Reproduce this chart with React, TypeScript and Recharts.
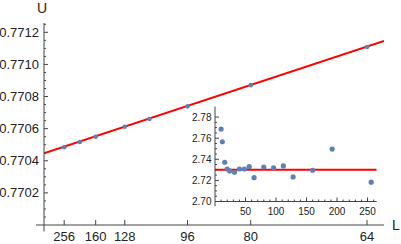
import { ComposedChart, Scatter, Line, XAxis, YAxis, ReferenceLine } from "recharts";

// main panel: U against 1/L^2, ticks labelled with L
const MAIN_L = [256, 192, 160, 128, 112, 96, 80, 64];
const MAIN_U = [0.770484, 0.770517, 0.77055, 0.770612, 0.77066, 0.770739, 0.770871, 0.771109];
const FIT_X = [0, 0.000257];
const FIT_U = [0.770447, 0.771146];
const MAIN_X_TICK_L = [256, 160, 128, 96, 80, 64];
const MAIN_Y_TICKS = [0.7702, 0.7704, 0.7706, 0.7708, 0.771, 0.7712];

// inset: rescaled values against L
const INSET_L = [10, 12, 16, 20, 24, 32, 40, 48, 56, 64, 80, 96, 112, 128, 160, 192, 256];
const INSET_V = [
  2.7686, 2.7566, 2.7372, 2.7308, 2.729, 2.7277, 2.7308, 2.7308, 2.733, 2.7226, 2.7327, 2.7318,
  2.7337, 2.7233, 2.7296, 2.7497, 2.7183,
];
const INSET_FIT_L = [0, 265];
const INSET_FIT_V = [2.73, 2.73];
const INSET_X_TICKS = [50, 100, 150, 200, 250];
const INSET_Y_TICKS = [2.7, 2.72, 2.74, 2.76, 2.78];

const BLUE = "#5e81b5";
const RED = "#ff0000";
const AXIS = "#444";
const TEXT = "#222";
const FONT = "'Liberation Sans', Arial, sans-serif";

const mainPoints = MAIN_L.map((L, i) => ({ x: 1 / (L * L), y: MAIN_U[i] }));
const mainFit = FIT_X.map((x, i) => ({ x, y: FIT_U[i] }));
const insetPoints = INSET_L.map((L, i) => ({ x: L, y: INSET_V[i] }));
const insetFit = INSET_FIT_L.map((x, i) => ({ x, y: INSET_FIT_V[i] }));

const mainXTicks = MAIN_X_TICK_L.map((L) => 1 / (L * L));
// minor ticks in between the labelled ones
const mainYTicks = Array.from({ length: 25 }, (_, i) => 0.77 + (i + 1) * 0.00005);
const insetXTicks = Array.from({ length: 26 }, (_, i) => (i + 1) * 10);
const insetYTicks = Array.from({ length: 17 }, (_, i) => 2.7 + i * 0.005);

const isMajor = (v: number, list: number[]) => list.some((t) => Math.abs(t - v) < 1e-9);

const dot = (r: number) => (p: any) => <circle cx={p.cx} cy={p.cy} r={r} fill={BLUE} />;

const MainXTick = (p: any) => (
  <g>
    <line x1={p.x} y1={p.y} x2={p.x} y2={p.y - 5} stroke={AXIS} />
    <text x={p.x} y={p.y + 16} textAnchor="middle" fontSize={13} fontFamily={FONT} fill={TEXT}>
      {Math.round(1 / Math.sqrt(p.payload.value))}
    </text>
  </g>
);

const MainYTick = (p: any) => {
  const major = isMajor(p.payload.value, MAIN_Y_TICKS);
  return (
    <g>
      <line x1={p.x} y1={p.y} x2={p.x + (major ? 4 : 2)} y2={p.y} stroke={AXIS} />
      {major && (
        <text x={p.x - 5} y={p.y + 4.5} textAnchor="end" fontSize={13} fontFamily={FONT} fill={TEXT}>
          {p.payload.value.toFixed(4)}
        </text>
      )}
    </g>
  );
};

const InsetXTick = (p: any) => {
  const major = isMajor(p.payload.value, INSET_X_TICKS);
  return (
    <g>
      <line x1={p.x} y1={p.y} x2={p.x} y2={p.y - (major ? 4 : 2)} stroke={AXIS} />
      {major && (
        <text x={p.x} y={p.y + 13.5} textAnchor="middle" fontSize={10} fontFamily={FONT} fill={TEXT}>
          {p.payload.value}
        </text>
      )}
    </g>
  );
};

const InsetYTick = (p: any) => {
  const major = isMajor(p.payload.value, INSET_Y_TICKS);
  return (
    <g>
      <line x1={p.x} y1={p.y} x2={p.x + (major ? 4 : 2)} y2={p.y} stroke={AXIS} />
      {major && (
        <text x={p.x - 3.5} y={p.y + 3.5} textAnchor="end" fontSize={10} fontFamily={FONT} fill={TEXT}>
          {p.payload.value.toFixed(2)}
        </text>
      )}
    </g>
  );
};

export default function App() {
  return (
    <div style={{ position: "fixed", left: 0, top: 0, width: 401, height: 244, background: "#fff", fontFamily: FONT }}>
      <ComposedChart width={401} height={244} margin={{ top: 23, right: 17, bottom: 0, left: 0 }}>
        <XAxis
          type="number"
          dataKey="x"
          domain={[0, 0.000257]}
          allowDataOverflow
          ticks={mainXTicks}
          interval={0}
          height={19}
          tickSize={0}
          tickMargin={0}
          tickLine={false}
          tick={MainXTick}
          axisLine={{ stroke: AXIS }}
        />
        <YAxis
          type="number"
          dataKey="y"
          domain={[0.77, 0.771258]}
          allowDataOverflow
          ticks={mainYTicks}
          interval={0}
          width={44}
          tickSize={0}
          tickMargin={0}
          tickLine={false}
          tick={MainYTick}
          axisLine={{ stroke: AXIS }}
        />
        <ReferenceLine segment={[{ x: 0, y: 0.77 }, { x: 0, y: 0.76996 }]} ifOverflow="visible" stroke={AXIS} />
        <ReferenceLine segment={[{ x: -0.000006, y: 0.77 }, { x: 0, y: 0.77 }]} ifOverflow="visible" stroke={AXIS} />
        <Scatter data={mainPoints} dataKey="y" shape={dot(2.3)} isAnimationActive={false} />
        <Line
          data={mainFit}
          dataKey="y"
          type="linear"
          stroke={RED}
          strokeWidth={2}
          dot={false}
          activeDot={false}
          isAnimationActive={false}
        />
      </ComposedChart>

      <div style={{ position: "absolute", left: 170, top: 100 }}>
        <ComposedChart width={215} height={120} margin={{ top: 6.5, right: 8.3, bottom: 0, left: 0 }}>
          <XAxis
            type="number"
            dataKey="x"
            domain={[0, 265]}
            allowDataOverflow
            ticks={insetXTicks}
            interval={0}
            height={18.5}
            tickSize={0}
            tickMargin={0}
            tickLine={false}
            tick={InsetXTick}
            axisLine={{ stroke: AXIS }}
          />
          <YAxis
            type="number"
            dataKey="y"
            domain={[2.7, 2.79]}
            allowDataOverflow
            ticks={insetYTicks}
            interval={0}
            width={45}
            tickSize={0}
            tickMargin={0}
            tickLine={false}
            tick={InsetYTick}
            axisLine={{ stroke: AXIS }}
          />
          <ReferenceLine segment={[{ x: 0, y: 2.7 }, { x: 0, y: 2.6955 }]} ifOverflow="visible" stroke={AXIS} />
          <Scatter data={insetPoints} dataKey="y" shape={dot(2.6)} isAnimationActive={false} />
          <Line
            data={insetFit}
            dataKey="y"
            type="linear"
            stroke={RED}
            strokeWidth={2}
            dot={false}
            activeDot={false}
            isAnimationActive={false}
          />
        </ComposedChart>
      </div>

      <div style={{ position: "absolute", left: 37, top: 0, fontSize: 14, color: TEXT }}>U</div>
      <div style={{ position: "absolute", left: 392, top: 217, fontSize: 14, color: TEXT }}>L</div>
    </div>
  );
}
